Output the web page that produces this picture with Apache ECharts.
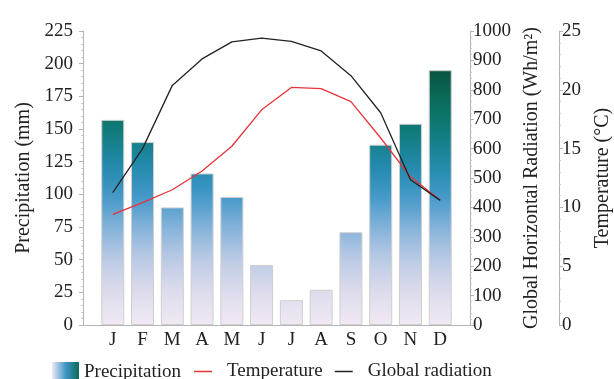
<!DOCTYPE html>
<html><head><meta charset="utf-8">
<script src="https://cdn.jsdelivr.net/npm/echarts@6/dist/echarts.min.js"></script>
<style>html,body{margin:0;padding:0;background:#fff}#c{width:614px;height:379px}</style>
</head><body><div id="c"></div>
<script>
const months = ['J','F','M','A','M','J','J','A','S','O','N','D'];
const precipitation = [157, 140, 90, 116, 98, 46, 19, 27, 71, 138, 154, 195];
const temperature = [9.4, 10.4, 11.5, 13.1, 15.2, 18.3, 20.2, 20.1, 19.0, 15.9, 12.6, 10.6];
const radiation = [450, 600, 815, 905, 963, 976, 965, 932, 848, 722, 494, 424];

// colour scale of the bar gradient (value -> colour)
const scaleStops = [
  [0, '#f1e9f3'], [25, '#dedced'], [50, '#bccbe5'], [75, '#84b2da'],
  [100, '#3f97c8'], [125, '#2088a8'], [150, '#0f7b76'], [175, '#0b6a58'], [200, '#094d3a']
];
function hex(c){return [parseInt(c.slice(1,3),16),parseInt(c.slice(3,5),16),parseInt(c.slice(5,7),16)];}
function colorAt(v){
  if (v <= scaleStops[0][0]) return scaleStops[0][1];
  for (let i=1;i<scaleStops.length;i++){
    if (v <= scaleStops[i][0]) {
      const [v0,c0]=scaleStops[i-1],[v1,c1]=scaleStops[i];
      const t=(v-v0)/(v1-v0), a=hex(c0), b=hex(c1);
      return 'rgb('+a.map((x,k)=>Math.round(x+(b[k]-x)*t)).join(',')+')';
    }
  }
  return scaleStops[scaleStops.length-1][1];
}
function barGradient(v){
  const stops=[];
  for(let k=0;k<=10;k++){const t=k/10;stops.push({offset:t,color:colorAt(v*(1-t))});}
  return new echarts.graphic.LinearGradient(0,0,0,1,stops);
}

const cats = [''].concat(months, ['']);
const pad = a => [null].concat(a, [null]);

const serif = '"Liberation Serif", "Times New Roman", serif';
const axisGray = '#b4b4b4';
const plain = v => String(v);
const chart = echarts.init(document.getElementById('c'));
chart.setOption({
  animation: false,
  textStyle: {fontFamily: serif},
  grid: {left: 83, right: 144, top: 31, bottom: 54, containLabel: false, outerBoundsMode: 'none'},
  xAxis: {
    type: 'category', data: cats, boundaryGap: false,
    axisLine: {lineStyle: {color: axisGray}},
    axisTick: {show: false},
    axisLabel: {interval: 0, color: '#222', fontSize: 19, fontFamily: serif, margin: 6}
  },
  yAxis: [
    {type: 'value', min: 0, max: 225, interval: 25, position: 'left',
     name: 'Precipitation (mm)', nameLocation: 'middle', nameGap: 49, nameRotate: 90,
     nameTextStyle: {fontSize: 20, color: '#222', fontFamily: serif},
     axisLine: {show: true, lineStyle: {color: axisGray}},
     axisTick: {show: true, length: 4, lineStyle: {color: axisGray}},
     minorTick: {show: true, splitNumber: 5, length: 2, lineStyle: {color: '#ccc'}},
     splitLine: {show: false},
     axisLabel: {fontSize: 19, color: '#222', fontFamily: serif, margin: 10, formatter: plain}},
    {type: 'value', min: 0, max: 1000, interval: 100, position: 'right',
     name: 'Global Horizontal Radiation (Wh/m²)', nameLocation: 'middle', nameGap: 50, nameRotate: 90,
     nameTextStyle: {fontSize: 20, color: '#222', fontFamily: serif},
     axisLine: {show: true, lineStyle: {color: axisGray}},
     axisTick: {show: true, length: 4, lineStyle: {color: axisGray}},
     minorTick: {show: true, splitNumber: 5, length: 2, lineStyle: {color: '#ccc'}},
     splitLine: {show: false},
     axisLabel: {fontSize: 19, color: '#222', fontFamily: serif, margin: 3, formatter: plain}},
    {type: 'value', min: 0, max: 25, interval: 5, position: 'right', offset: 89,
     name: 'Temperature (°C)', nameLocation: 'middle', nameGap: 34, nameRotate: 90,
     nameTextStyle: {fontSize: 20, color: '#222', fontFamily: serif},
     axisLine: {show: true, lineStyle: {color: axisGray}},
     axisTick: {show: true, length: 4, lineStyle: {color: axisGray}},
     minorTick: {show: true, splitNumber: 5, length: 2, lineStyle: {color: '#ccc'}},
     splitLine: {show: false},
     axisLabel: {fontSize: 19, color: '#222', fontFamily: serif, margin: 3, formatter: plain}}
  ],
  legend: [
    {left: 47, top: 357, itemWidth: 27, itemHeight: 21, itemGap: 10,
     textStyle: {fontSize: 19, color: '#222', fontFamily: serif},
     data: [{name: 'Precipitation', icon: 'rect', itemStyle: {borderWidth: 0,
       color: new echarts.graphic.LinearGradient(0,0,1,0,[
         {offset:0,color:'#f1e9f3'},{offset:0.5,color:'#3f97c8'},{offset:1,color:'#0b6a58'}])}}]},
    {left: 189, top: 357, itemWidth: 18, itemHeight: 1.5, itemGap: 12, icon: 'rect',
     textStyle: {fontSize: 19, color: '#222', fontFamily: serif, padding: [0,0,0,10]},
     data: [{name: 'Temperature', icon: 'rect', itemStyle: {color: '#e5343c'}},
            {name: 'Global radiation', icon: 'rect', itemStyle: {color: '#222'}}]}
  ],
  series: [
    {name: 'Precipitation', type: 'bar', yAxisIndex: 0, barWidth: 23,
     data: pad(precipitation).map(v => v == null ? null :
       {value: v, itemStyle: {color: barGradient(v)}}),
     itemStyle: {borderColor: '#cfcfcf', borderWidth: 1}},
    {name: 'Temperature', type: 'line', yAxisIndex: 2, data: pad(temperature),
     symbol: 'none', color: '#e5343c', lineStyle: {width: 1.3, color: '#e5343c'}},
    {name: 'Global radiation', type: 'line', yAxisIndex: 1, data: pad(radiation),
     symbol: 'none', color: '#222', lineStyle: {width: 1.3, color: '#222'}}
  ]
});
</script></body></html>
